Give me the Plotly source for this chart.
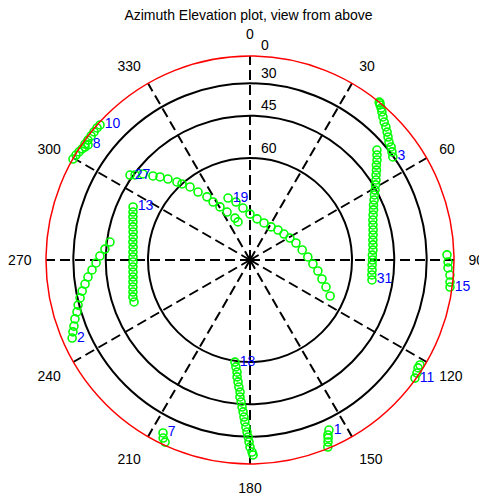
import numpy as np
import plotly.graph_objects as go

# ---------------- data (azimuth deg, elevation deg) ----------------
prns = ["10", "8", "27", "13", "2", "19", "3", "31", "15", "11", "1", "18", "7"]

az_10 = [312.0, 310.8, 309.4, 308.0, 306.5, 305.1]
el_10 = [8.4, 7.9, 8.4, 8.8, 8.8, 8.6]
az_8 = [305.4, 304.4, 303.5, 302.3, 301.1, 299.7]
el_8 = [13.1, 11.4, 9.2, 7.5, 5.1, 2.5]
az_27 = [305.3, 306.5, 308.8, 310.9, 312.7, 314.6, 316.9, 318.2, 320.6, 322.6, 325.7, 327.5, 330.5, 334.4, 340.3, 342.5]
el_27 = [43.9, 45.5, 47.7, 51.0, 53.1, 55.6, 58.4, 60.0, 62.4, 65.2, 68.0, 70.3, 72.6, 74.9, 77.4, 78.7]
az_13 = [294.4, 292.3, 290.2, 288.0, 285.8, 283.5, 281.1, 278.7, 276.3, 273.9, 271.5, 269.0, 266.6, 264.1, 261.7, 259.4, 257.0, 254.7, 252.5, 250.1]
el_13 = [51.0, 51.7, 52.3, 52.9, 53.4, 53.9, 54.3, 54.5, 54.8, 54.9, 55.0, 55.0, 54.9, 54.8, 54.6, 54.3, 53.9, 53.5, 53.0, 52.8]
az_2 = [246.3, 247.9, 249.4, 251.4, 253.3, 255.3, 257.4, 259.5, 261.7, 264.0, 266.4, 268.9, 271.5, 274.3, 277.3]
el_2 = [17.8, 20.5, 22.8, 25.1, 27.7, 29.4, 31.4, 33.2, 35.2, 37.0, 39.1, 41.0, 42.6, 44.5, 46.2]
az_19 = [340.5, 346.4, 352.3, 0.0, 9.7, 20.7, 32.5, 43.0, 52.6, 61.2, 69.7, 79.1, 87.0, 93.6, 99.2, 104.8, 109.6, 114.2]
el_19 = [71.2, 73.0, 75.1, 77.0, 78.2, 78.8, 78.9, 78.4, 77.9, 77.1, 76.1, 74.9, 73.5, 72.0, 70.3, 68.6, 66.7, 64.5]
az_3 = [54.2, 52.7, 51.3, 49.7, 48.3, 47.0, 45.6, 44.2, 42.9, 41.7, 40.8, 40.0, 39.6, 39.3]
el_3 = [30.3, 29.0, 27.6, 26.7, 25.0, 23.2, 21.2, 19.4, 16.8, 13.6, 10.3, 7.2, 2.6, 1.0]
az_31 = [99.3, 97.0, 94.7, 92.3, 90.0, 87.7, 85.4, 83.0, 80.8, 78.5, 76.3, 74.1, 72.0, 69.9, 67.9, 66.0, 64.2, 62.4, 60.8, 59.1, 57.6, 56.0, 54.6, 53.1, 51.8, 50.4, 49.1]
el_31 = [52.7, 53.0, 53.1, 53.2, 53.1, 53.1, 52.8, 52.6, 52.4, 52.0, 51.6, 51.2, 50.7, 50.0, 49.2, 48.5, 47.5, 46.5, 45.4, 44.2, 43.0, 41.8, 40.5, 39.2, 37.6, 36.1, 34.6]
az_15 = [97.7, 96.3, 94.3, 92.3, 90.6, 88.5]
el_15 = [8.4, 9.5, 10.6, 13.7, 13.9, 15.0]
az_11 = [125.6, 124.1, 122.7, 121.7]
el_11 = [6.0, 8.8, 11.8, 11.7]
az_1 = [155.1, 156.0, 156.3, 156.8, 157.4]
el_1 = [23.2, 20.1, 17.7, 13.9, 6.8]
az_18 = [188.4, 187.5, 186.6, 186.3, 185.6, 185.0, 184.3, 184.2, 183.6, 183.1, 182.6, 182.2, 181.8, 181.4, 181.0, 180.6, 180.3, 180.0, 179.4, 179.1]
el_18 = [59.6, 58.1, 56.4, 54.8, 53.1, 51.3, 49.5, 47.7, 45.8, 43.8, 41.8, 39.6, 37.4, 35.0, 32.5, 29.8, 26.9, 23.5, 19.7, 17.1]
az_7 = [206.7, 206.0, 205.0]
el_7 = [18.4, 13.8, 10.0]

ring_el = [0, 30, 45, 60]
ring_labels = ["0", "30", "45", "60"]
az_ticks = list(range(0, 360, 30))
az_labels = [str(a) for a in az_ticks]

title = "Azimuth Elevation plot, view from above"

tracks = {
    "10": (az_10, el_10), "8": (az_8, el_8), "27": (az_27, el_27), "13": (az_13, el_13),
    "2": (az_2, el_2), "19": (az_19, el_19), "3": (az_3, el_3), "31": (az_31, el_31),
    "15": (az_15, el_15), "11": (az_11, el_11), "1": (az_1, el_1), "18": (az_18, el_18),
    "7": (az_7, el_7),
}

def rad(el):
    return np.cos(np.radians(np.asarray(el, dtype=float)))

FONT = "Arial, Liberation Sans, sans-serif"
W, H = 487, 499
cx, cy, R = 242, 252, 204   # page body adds an 8px offset

fig = go.Figure()

for p in prns:
    az, el = tracks[p]
    fig.add_trace(go.Scatterpolar(
        r=rad(el), theta=az, mode="markers",
        marker=dict(symbol="circle-open", size=8, color="#00ff00", line=dict(width=1.6, color="#00ff00")),
        hoverinfo="skip", showlegend=False, cliponaxis=False,
    ))

# PRN labels at first point of each track
fig.add_trace(go.Scatterpolar(
    r=[rad(tracks[p][1][0]) for p in prns],
    theta=[tracks[p][0][0] for p in prns],
    mode="markers+text", text=prns, textposition="middle right",
    marker=dict(size=6, opacity=0),
    textfont=dict(family=FONT, size=14, color="#0000ff"),
    hoverinfo="skip", showlegend=False, cliponaxis=False,
))

# elevation ring labels: just right of the north spoke, above each ring
ring_r = rad(ring_el)
ring_theta = np.degrees(np.arcsin(8.75 / (R * ring_r)))
fig.add_trace(go.Scatterpolar(
    r=ring_r, theta=ring_theta,
    mode="markers+text", text=ring_labels, textposition="top right",
    marker=dict(size=2, opacity=0),
    textfont=dict(family=FONT, size=14, color="black"),
    hoverinfo="skip", showlegend=False, cliponaxis=False,
))

fig.update_layout(
    width=W, height=H,
    margin=dict(l=0, r=0, t=0, b=0),
    paper_bgcolor="white", plot_bgcolor="white",
    title=dict(text=title, x=240.5 / W, xanchor="center", y=1 - 7 / H, yanchor="middle",
               font=dict(family=FONT, size=14, color="black")),
    font=dict(family=FONT, size=14, color="black"),
    polar=dict(
        domain=dict(x=[(cx - R) / W, (cx + R) / W], y=[(H - cy - R) / H, (H - cy + R) / H]),
        bgcolor="white",
        radialaxis=dict(range=[0, 1], tickmode="array", tickvals=list(rad(ring_el[1:])),
                        showticklabels=False, ticks="", showline=False,
                        gridcolor="black", gridwidth=1.5),
        angularaxis=dict(direction="clockwise", rotation=90, tickmode="array",
                         tickvals=az_ticks, ticktext=az_labels,
                         ticks="outside", ticklen=11, tickcolor="rgba(0,0,0,0)",
                         showline=True, linecolor="red", linewidth=1.5,
                         gridcolor="black", gridwidth=1.5, griddash="10px,5px",
                         tickfont=dict(family=FONT, size=14, color="black")),
    ),
)

fig.write_html("out.html")
